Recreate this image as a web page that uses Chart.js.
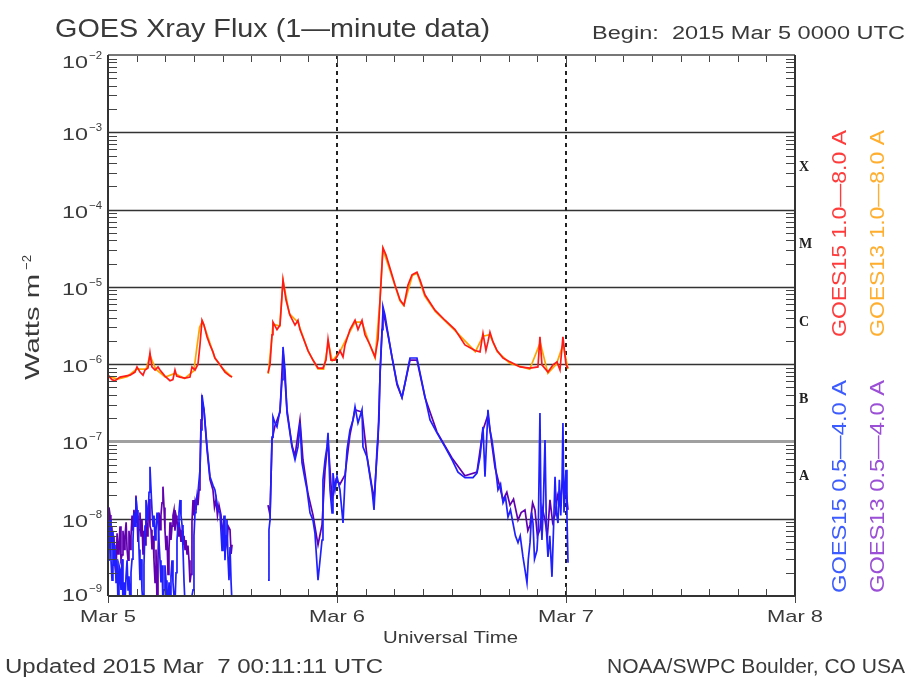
<!DOCTYPE html>
<html>
<head>
<meta charset="utf-8">
<title>GOES Xray Flux</title>
<script src="https://cdn.jsdelivr.net/npm/chart.js@4.4.0/dist/chart.umd.min.js"></script>
<style>
html, body { margin: 0; padding: 0; background: #fff; }
#wrap { width: 911px; height: 679px; }
</style>
</head>
<body>
<div id="wrap"><canvas id="xrayChart" width="911" height="679"></canvas></div>
<script>
// [hours since 2015 Mar 5 00:00 UTC, flux W/m2], null = data gap
const goes15Long = [[0,7.2e-7],[0.42,6.3e-7],[0.73,6.1e-7],[1.26,6.8e-7],[1.78,7.0e-7],[2.31,7.2e-7],[2.83,7.9e-7],[3.04,9.2e-7],[3.35,7.9e-7],[3.67,7.2e-7],[3.88,8.4e-7],[4.19,8.9e-7],[4.40,1.4e-6],[4.6,9.2e-7],[4.93,8.4e-7],[5.24,9.2e-7],[5.45,8.4e-7],[5.97,7.0e-7],[6.50,6.1e-7],[6.8,6.3e-7],[7.02,8.4e-7],[7.2,7.0e-7],[7.55,6.8e-7],[8.07,6.6e-7],[8.59,6.8e-7],[8.80,9.2e-7],[9.12,8.4e-7],[9.43,1.0e-6],[9.64,1.77e-6],[9.85,3.7e-6],[10.06,3.2e-6],[10.38,2.25e-6],[10.69,1.77e-6],[11.0,1.44e-6],[11.21,1.2e-6],[11.74,9.8e-7],[12.26,7.9e-7],[12.79,7.0e-7],[13.0,6.8e-7],[15,null],[16.77,7.7e-7],[16.98,9.8e-7],[17.19,2.4e-6],[17.29,3.5e-6],[17.71,2.8e-6],[18.03,3.2e-6],[18.34,1.23e-5],[18.65,6.8e-6],[19.07,4.3e-6],[19.60,3.2e-6],[19.91,3.7e-6],[20.12,2.8e-6],[20.33,2.4e-6],[20.96,1.5e-6],[21.48,1.13e-6],[22.01,8.9e-7],[22.53,8.9e-7],[22.85,1.13e-6],[23.06,2.1e-6],[23.37,1.13e-6],[23.79,1.13e-6],[24.10,1.32e-6],[24.31,1.5e-6],[24.63,1.24e-6],[24.84,1.77e-6],[25.36,2.8e-6],[25.89,3.7e-6],[26.20,2.8e-6],[26.62,3.7e-6],[26.93,2.4e-6],[27.46,1.77e-6],[27.98,1.24e-6],[28.30,2.1e-6],[28.51,6.8e-6],[28.82,3.2e-5],[29.13,2.6e-5],[29.55,1.76e-5],[30.08,1.06e-5],[30.60,6.8e-6],[31.02,5.8e-6],[31.44,1.06e-5],[31.86,1.43e-5],[32.38,1.55e-5],[32.70,1.23e-5],[33.22,7.9e-6],[34.27,5.0e-6],[35.32,3.7e-6],[36.37,2.8e-6],[37.41,1.77e-6],[38.46,1.5e-6],[38.99,1.44e-6],[39.30,2.5e-6],[39.61,1.5e-6],[39.82,1.94e-6],[40.03,2.6e-6],[40.35,1.94e-6],[40.77,1.5e-6],[41.40,1.2e-6],[42.13,1.07e-6],[43.18,9.2e-7],[44.23,8.9e-7],[45.06,9.2e-7],[45.27,2.25e-6],[45.48,9.8e-7],[46.11,7.9e-7],[46.64,9.8e-7],[47.06,1.07e-6],[47.37,8.4e-7],[47.68,2.25e-6],[48.0,9.8e-7],[48.21,8.9e-7]];

const goes13Long = [[0,7.0e-7],[1,6.4e-7],[2,6.9e-7],[3,8.6e-7],[4,8.6e-7],[4.4,1.3e-6],[5,8.6e-7],[6,6.8e-7],[7,7.6e-7],[8,6.5e-7],[9,8.2e-7],[9.3,1.6e-6],[9.6,3.0e-6],[9.9,3.6e-6],[10.5,2.2e-6],[11.2,1.2e-6],[12,8.8e-7],[13,6.8e-7],[15,null],[16.8,7.5e-7],[17.3,3.3e-6],[18.0,3.1e-6],[18.35,1.2e-5],[19,4.5e-6],[19.9,3.5e-6],[21,1.45e-6],[22,8.7e-7],[22.6,8.6e-7],[23.1,1.9e-6],[23.5,1.1e-6],[24.3,1.45e-6],[25.4,2.7e-6],[25.9,3.5e-6],[26.6,3.5e-6],[27.5,1.7e-6],[28,1.2e-6],[28.5,6.5e-6],[28.8,3.1e-5],[29.5,1.7e-5],[30.6,6.6e-6],[31,5.7e-6],[31.9,1.4e-5],[32.4,1.5e-5],[33.2,7.6e-6],[34.3,4.8e-6],[36.4,2.7e-6],[38.5,1.45e-6],[39.3,2.3e-6],[40,2.4e-6],[40.8,1.45e-6],[42.1,1.03e-6],[44.2,8.6e-7],[45.3,1.9e-6],[46.1,7.6e-7],[47,1.0e-6],[47.7,1.8e-6],[48.2,8.6e-7]];

const goes15Short = [[0,2.9e-9],[0.1,6e-9],[0.21,9.6e-9],[0.31,3e-9],[0.42,1.6e-9],[0.52,7e-9],[0.63,2.5e-9],[0.73,4.6e-9],[0.84,1.5e-9],[0.94,3e-9],[1.05,8e-10],[1.15,2.5e-9],[1.26,2.2e-9],[1.36,1.2e-9],[1.47,3e-9],[1.57,8e-10],[1.68,1.5e-9],[1.78,8e-10],[1.89,1.8e-9],[2.0,2.9e-9],[2.1,1.2e-9],[2.2,1.8e-9],[2.31,8e-10],[2.41,2e-9],[2.52,3e-9],[2.62,5.3e-9],[2.72,1.2e-8],[2.83,8e-9],[2.93,1.9e-8],[3.04,1.3e-8],[3.14,9.6e-9],[3.25,4e-9],[3.35,1.6e-9],[3.46,3e-9],[3.56,1.2e-9],[3.67,8e-10],[3.77,2.5e-9],[3.88,8e-9],[3.98,1.75e-8],[4.09,1.2e-8],[4.19,9.6e-9],[4.3,2.2e-8],[4.40,4.7e-8],[4.5,2.5e-8],[4.61,1.3e-8],[4.72,8e-9],[4.82,1.1e-8],[4.93,5.3e-9],[5.03,7e-9],[5.14,1.2e-8],[5.24,9.6e-9],[5.35,5e-9],[5.45,2.9e-9],[5.55,1.5e-9],[5.66,2.5e-9],[5.76,8e-10],[5.87,1.2e-9],[5.97,2.5e-9],[6.08,1.6e-9],[6.18,1e-9],[6.29,8e-10],[6.4,1.5e-9],[6.5,8e-10],[6.6,1.8e-9],[6.71,2.9e-9],[6.81,1.5e-9],[6.92,1e-9],[7.02,8e-10],[7.13,2e-9],[7.23,5.3e-9],[7.34,8e-9],[7.44,1.2e-8],[7.55,1.75e-8],[7.65,1.1e-8],[7.76,8.3e-9],[7.86,4e-9],[7.97,1.5e-9],[8.07,8e-10],[8.59,8e-10],[8.8,1e-9],[8.91,1.2e-9],[9.01,6e-9],[9.12,1.2e-8],[9.22,1.75e-8],[9.43,2.16e-8],[9.64,4.3e-8],[9.75,1.41e-7],[9.85,4.0e-7],[10.06,2.56e-7],[10.38,8.5e-8],[10.69,3.5e-8],[11.0,2.7e-8],[11.21,2.36e-8],[11.53,1.3e-8],[11.74,1.19e-8],[11.95,3.9e-9],[12.05,6.5e-9],[12.16,1.1e-8],[12.26,2.9e-9],[12.37,6e-9],[12.47,9.6e-9],[12.58,3e-9],[12.68,1.6e-9],[12.79,4.3e-9],[12.9,1.5e-9],[13.0,8e-10],[15,null],[16.77,1.6e-9],[16.87,7.2e-9],[16.98,9.6e-9],[17.19,1.14e-7],[17.29,2.07e-7],[17.5,1.73e-7],[17.71,1.54e-7],[18.03,2.56e-7],[18.24,6.3e-7],[18.34,1.67e-6],[18.55,8.4e-7],[18.76,2.34e-7],[19.07,1.29e-7],[19.28,8.5e-8],[19.60,5.8e-8],[19.91,8.5e-8],[20.12,1.73e-7],[20.33,5.3e-8],[20.65,3.2e-8],[20.86,2.36e-8],[21.17,1.19e-8],[21.48,9.6e-9],[21.69,6.5e-9],[22.01,1.6e-9],[22.22,2.9e-9],[22.43,5.3e-9],[22.53,3.2e-8],[22.75,5.8e-8],[22.95,8.5e-8],[23.06,1.29e-7],[23.27,2.36e-8],[23.48,1.19e-8],[23.58,3.9e-8],[23.79,2.36e-8],[24.0,3.5e-8],[24.31,2.36e-8],[24.63,8.8e-9],[24.84,3.2e-8],[25.05,7.8e-8],[25.36,1.41e-7],[25.68,1.9e-7],[25.89,2.8e-7],[26.20,1.73e-7],[26.62,2.56e-7],[26.72,8.5e-8],[27.14,6.3e-8],[27.67,2.36e-8],[27.88,1.3e-8],[28.19,7.8e-8],[28.4,1.9e-7],[28.51,7.7e-7],[28.72,2.8e-6],[28.82,5.5e-6],[29.03,4.3e-6],[29.34,2.5e-6],[29.76,1.24e-6],[30.29,5.7e-7],[30.81,3.7e-7],[31.13,5.7e-7],[31.65,1.2e-6],[32.38,1.2e-6],[32.70,7.7e-7],[33.22,3.8e-7],[33.75,1.9e-7],[34.48,1.29e-7],[35.32,8.5e-8],[36.05,5.8e-8],[36.68,4.0e-8],[37.41,3.4e-8],[38.25,3.4e-8],[38.67,3.9e-8],[38.99,6.3e-8],[39.30,1.54e-7],[39.51,3.5e-8],[39.82,2.56e-7],[40.03,1.41e-7],[40.24,1.04e-7],[40.56,5.3e-8],[40.87,2.36e-8],[41.14,2.8e-8],[41.40,1.6e-8],[41.66,1.9e-8],[41.92,1.05e-8],[42.18,1.3e-8],[42.44,8.8e-9],[42.7,6e-9],[42.97,4.9e-9],[43.2,6e-9],[43.49,3.2e-9],[43.7,2.2e-9],[43.91,1.48e-9],[44.05,3e-9],[44.23,4.9e-9],[44.4,1.2e-8],[44.54,8.8e-9],[44.7,3e-9],[44.96,3.9e-9],[45.1,8e-9],[45.27,2.34e-7],[45.38,1.2e-8],[45.48,5.3e-9],[45.62,1.5e-8],[45.80,1.04e-7],[45.95,7e-9],[46.11,3.2e-9],[46.3,6e-9],[46.53,1.77e-9],[46.7,8e-9],[46.85,3.5e-8],[47.0,1.2e-8],[47.16,8.8e-9],[47.3,3.2e-8],[47.45,1.1e-8],[47.58,2.9e-8],[47.68,1.73e-7],[47.79,1.2e-8],[47.89,2.36e-8],[48.0,4.3e-8],[48.1,1.1e-8],[48.21,2.7e-9]];

const goes13Short = [[0,9.6e-9],[0.1,1.4e-8],[0.21,1.12e-8],[0.3,5e-9],[0.4,8e-9],[0.52,3.9e-9],[0.62,6e-9],[0.72,2.5e-9],[0.84,1.9e-9],[0.95,6.5e-9],[1.05,3.5e-9],[1.15,4.6e-9],[1.26,8e-9],[1.36,3e-9],[1.47,3.4e-9],[1.57,7e-9],[1.68,4e-9],[1.78,6.0e-9],[1.9,9e-9],[2.0,4e-9],[2.10,2.9e-9],[2.2,7e-9],[2.31,4e-9],[2.41,6.0e-9],[2.52,1.1e-8],[2.62,7e-9],[2.72,1.3e-8],[2.83,9e-9],[2.93,2.0e-8],[3.04,1.1e-8],[3.14,5e-9],[3.25,7.2e-9],[3.35,1.2e-8],[3.46,6e-9],[3.56,9.6e-9],[3.67,3.5e-9],[3.77,7e-9],[3.88,4.6e-9],[3.98,1.0e-8],[4.09,6e-9],[4.19,1.3e-8],[4.3,1.8e-8],[4.40,8e-9],[4.51,7.2e-9],[4.61,4e-9],[4.72,6e-9],[4.82,2.9e-9],[4.93,1.5e-9],[5.03,4e-9],[5.14,8e-10],[5.24,3e-9],[5.35,1.2e-8],[5.45,7.2e-9],[5.55,1.1e-8],[5.66,1.6e-8],[5.76,2.6e-8],[5.87,1.4e-8],[5.97,7.2e-9],[6.08,4e-9],[6.18,6e-9],[6.29,1.9e-9],[6.39,4e-9],[6.50,9e-9],[6.60,5.3e-9],[6.71,8e-9],[6.81,1.1e-8],[6.92,1.3e-8],[7.02,7e-9],[7.13,1.1e-8],[7.23,9.6e-9],[7.34,6e-9],[7.44,9e-9],[7.55,7.2e-9],[7.65,5e-9],[7.76,7e-9],[7.86,4.6e-9],[7.97,6e-9],[8.07,4e-9],[8.17,5.3e-9],[8.28,3.5e-9],[8.38,4.5e-9],[8.49,2.9e-9],[8.59,1.5e-9],[8.70,1.9e-9],[8.80,9e-9],[8.91,1.75e-8],[9.01,1.1e-8],[9.12,1.6e-8],[9.22,1.3e-8],[9.33,1.9e-8],[9.43,1.5e-8],[9.54,2.36e-8],[9.64,3.7e-8],[9.75,1.9e-7],[9.85,3.4e-7],[10.06,2.56e-7],[10.38,7.8e-8],[10.69,3.2e-8],[11.0,2.36e-8],[11.16,1.4e-8],[11.32,1.75e-8],[11.47,1.1e-8],[11.63,1.5e-8],[11.84,1.12e-8],[12.0,6e-9],[12.16,9.6e-9],[12.3,4e-9],[12.47,5.3e-9],[12.6,8e-9],[12.79,7.2e-9],[12.9,3.5e-9],[13.0,4.6e-9],[15,null],[16.77,1.5e-8],[16.98,1.12e-8],[17.19,1.04e-7],[17.5,1.6e-7],[18.03,2.4e-7],[18.34,1.5e-6],[18.76,2.56e-7],[19.28,8.9e-8],[19.60,6.5e-8],[20.12,1.9e-7],[20.43,5.8e-8],[20.96,2.1e-8],[21.48,1.12e-8],[22.01,4.6e-9],[22.43,8.3e-9],[22.75,4.3e-8],[23.06,1.04e-7],[23.48,1.75e-8],[23.9,3.2e-8],[24.31,2.8e-8],[24.84,3.7e-8],[25.36,1.22e-7],[25.89,2.56e-7],[26.62,2.4e-7],[27.14,6.5e-8],[27.88,1.75e-8],[28.30,1.04e-7],[28.51,7.2e-7],[28.82,5.0e-6],[29.34,2.4e-6],[30.29,5.4e-7],[30.81,3.7e-7],[31.65,1.13e-6],[32.38,1.13e-6],[33.22,3.7e-7],[34.48,1.32e-7],[36.05,6.1e-8],[37.41,3.6e-8],[38.67,4.0e-8],[39.30,1.41e-7],[39.82,2.2e-7],[40.56,4.6e-8],[41.40,1.75e-8],[41.8,2.2e-8],[42.13,1.5e-8],[42.5,1.8e-8],[42.97,9.6e-9],[43.3,1.2e-8],[43.70,1.3e-8],[44.0,7e-9],[44.23,8.3e-9],[44.5,1.6e-8],[44.75,1.3e-8],[45.0,6e-9],[45.27,7.2e-9],[45.5,1.4e-8],[45.80,9.6e-9],[46.05,6e-9],[46.32,1.75e-8],[46.6,9e-9],[46.85,1.12e-8],[47.1,2.0e-8],[47.37,1.5e-8],[47.68,3.2e-8],[48.0,2.36e-8],[48.21,1.3e-8]];

const dayLabels = ['Mar 5', 'Mar 6', 'Mar 7', 'Mar 8'];
const decadeExps = [-2, -3, -4, -5, -6, -7, -8, -9];
const flareClasses = ['A', 'B', 'C', 'M', 'X'];
const seriesNames = ['GOES15 1.0\u20148.0 A', 'GOES13 1.0\u20148.0 A', 'GOES15 0.5\u20144.0 A', 'GOES13 0.5\u20144.0 A'];

const fontFam = '"Liberation Sans", Arial, sans-serif';

function toPoints(arr) {
    return arr.map(p => ({ x: p[0], y: p[1] }));
}

// draw text squeezed/stretched to a given width
function fitText(ctx, str, left, base, size, width, color) {
    ctx.save();
    ctx.font = size + 'px ' + fontFam;
    const w = ctx.measureText(str).width;
    ctx.translate(left, base);
    ctx.scale(width / w, 1);
    ctx.fillStyle = color;
    ctx.textAlign = 'left';
    ctx.textBaseline = 'alphabetic';
    ctx.fillText(str, 0, 0);
    ctx.restore();
}

function vertText(ctx, str, cx, bottom, size, length, color) {
    ctx.save();
    ctx.font = size + 'px ' + fontFam;
    const w = ctx.measureText(str).width;
    ctx.translate(cx, bottom);
    ctx.rotate(-Math.PI / 2);
    ctx.scale(length / w, 1);
    ctx.fillStyle = color;
    ctx.textAlign = 'left';
    ctx.textBaseline = 'middle';
    ctx.fillText(str, 0, 0);
    ctx.restore();
}

function seg(ctx, x1, y1, x2, y2) {
    ctx.beginPath();
    ctx.moveTo(x1, y1);
    ctx.lineTo(x2, y2);
    ctx.stroke();
}

const xrayFrame = {
    id: 'xrayFrame',
    beforeDatasetsDraw(chart) {
        const { ctx, chartArea: a, scales: { x, y } } = chart;
        ctx.save();
        // decade lines
        decadeExps.forEach(e => {
            if (e === -2 || e === -9) return;
            const py = Math.round(y.getPixelForValue(Math.pow(10, e))) + 0.5;
            if (e === -7) {
                ctx.strokeStyle = '#a0a0a0';
                ctx.lineWidth = 3;
            } else {
                ctx.strokeStyle = '#333';
                ctx.lineWidth = 1.5;
            }
            seg(ctx, a.left, py, a.right, py);
        });
        // day boundaries
        ctx.setLineDash([4, 4]);
        ctx.strokeStyle = '#222';
        ctx.lineWidth = 2;
        [24, 48].forEach(h => {
            const px = Math.round(x.getPixelForValue(h));
            seg(ctx, px, a.top, px, a.bottom);
        });
        ctx.restore();
    },
    afterDraw(chart) {
        const { ctx, chartArea: a, scales: { x, y } } = chart;
        ctx.save();
        ctx.strokeStyle = '#444';
        ctx.lineWidth = 1;
        // log minor ticks on both sides
        for (let e = -9; e < -2; e++) {
            for (let m = 2; m < 10; m++) {
                const py = Math.round(y.getPixelForValue(m * Math.pow(10, e))) + 0.5;
                seg(ctx, a.left, py, a.left + 9, py);
                seg(ctx, a.right - 9, py, a.right, py);
            }
        }
        // 3-hour ticks top and bottom
        for (let h = 0; h <= 72; h += 3) {
            const px = Math.round(x.getPixelForValue(h)) + 0.5;
            const major = h % 24 === 0;
            seg(ctx, px, a.bottom, px, a.bottom - (major ? 10 : 7));
            if (major) seg(ctx, px, a.bottom, px, a.bottom + 7);
            seg(ctx, px, a.top, px, a.top + (major ? 10 : 7));
        }
        // frame
        ctx.strokeStyle = '#777';
        ctx.lineWidth = 2;
        seg(ctx, a.left, a.top, a.right, a.top);
        ctx.strokeStyle = '#333';
        seg(ctx, a.left, a.top, a.left, a.bottom);
        seg(ctx, a.left, a.bottom, a.right, a.bottom);
        seg(ctx, a.right, a.top, a.right, a.bottom);

        const txt = '#3a3a3a';
        // y tick labels 10^n
        decadeExps.forEach((e, i) => {
            let py = y.getPixelForValue(Math.pow(10, e)) + 2;
            if (i === 0) py += 5;
            if (i === decadeExps.length - 1) py -= 3;
            fitText(ctx, '10', 62, py + 6, 17, 26, txt);
            fitText(ctx, '\u2212' + Math.abs(e), 89, py - 3, 11, 13, txt);
        });
        // day labels
        dayLabels.forEach((lab, i) => {
            const px = x.getPixelForValue(i * 24);
            fitText(ctx, lab, px - 28, 622, 17, 56, txt);
        });
        fitText(ctx, 'Universal Time', 383, 643, 17, 135, txt);
        // y axis title
        vertText(ctx, 'Watts m', 33, 380, 20, 106, txt);
        vertText(ctx, '\u22122', 27, 270, 13, 15, txt);
        // flare classes
        ctx.font = 'bold 14px "Liberation Serif", serif';
        ctx.fillStyle = '#222';
        ctx.textAlign = 'left';
        ctx.textBaseline = 'middle';
        flareClasses.forEach((c, i) => {
            const py = y.getPixelForValue(3.5 * Math.pow(10, -8 + i));
            ctx.fillText(c, a.right + 4, py);
        });
        // titles
        fitText(ctx, 'GOES Xray Flux (1\u2014minute data)', 55, 37, 26, 435, txt);
        fitText(ctx, 'Begin:  2015 Mar 5 0000 UTC', 592, 39, 18, 313, txt);
        fitText(ctx, 'Updated 2015 Mar  7 00:11:11 UTC', 5, 673, 20, 378, txt);
        fitText(ctx, 'NOAA/SWPC Boulder, CO USA', 607, 673, 20, 298, txt);
        // series legend, rotated
        vertText(ctx, seriesNames[0], 840, 337, 20, 207, '#ff3b3b');
        vertText(ctx, seriesNames[1], 878, 337, 20, 207, '#ffae2e');
        vertText(ctx, seriesNames[2], 840, 593, 20, 213, '#3d5cff');
        vertText(ctx, seriesNames[3], 878, 593, 20, 213, '#9a4fd6');
        ctx.restore();
    }
};

new Chart(document.getElementById('xrayChart'), {
    type: 'line',
    data: {
        datasets: [
            { label: seriesNames[0], data: toPoints(goes15Long), borderColor: '#ff1a1a', order: 1 },
            { label: seriesNames[1], data: toPoints(goes13Long), borderColor: '#ffa500', order: 2 },
            { label: seriesNames[2], data: toPoints(goes15Short), borderColor: '#1f1fff', order: 1 },
            { label: seriesNames[3], data: toPoints(goes13Short), borderColor: '#6000b0', order: 2 }
        ]
    },
    options: {
        responsive: false,
        animation: false,
        spanGaps: false,
        layout: { padding: { left: 108, right: 116, top: 55, bottom: 83 } },
        plugins: { legend: { display: false }, tooltip: { enabled: false } },
        elements: {
            point: { radius: 0 },
            line: { borderWidth: 1.7, tension: 0 }
        },
        scales: {
            x: { type: 'linear', min: 0, max: 72, display: false },
            y: { type: 'logarithmic', min: 1e-9, max: 1e-2, display: false }
        }
    },
    plugins: [xrayFrame]
});
</script>
</body>
</html>
